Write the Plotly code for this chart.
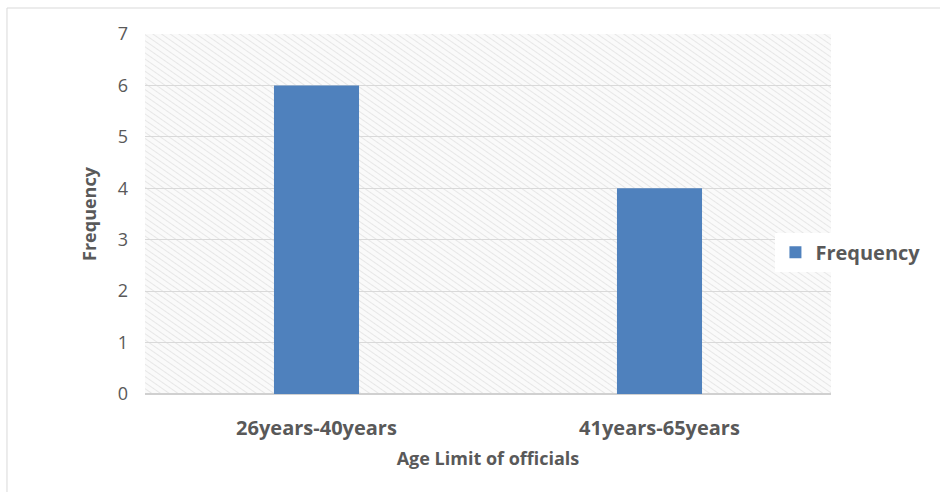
import base64
import plotly.graph_objects as go

# Frequency of officials by age band
age_groups = ["26years-40years", "41years-65years"]
frequency = [6, 4]
y_ticks = [0, 1, 2, 3, 4, 5, 6, 7]

BAR_BLUE = "#4f81bd"
TEXT_GREY = "#595959"
GRID_GREY = "#d9d9d9"
FONT = "Open Sans, Liberation Sans, sans-serif"

# Light diagonal hatch (top-left to bottom-right) used as the plot-area backdrop
hatch_svg = (
    '<svg xmlns="http://www.w3.org/2000/svg" width="686" height="360" '
    'viewBox="0 0 686 360" preserveAspectRatio="none">'
    '<defs><pattern id="h" width="5" height="5" patternUnits="userSpaceOnUse" '
    'patternTransform="rotate(35)">'
    '<rect width="5" height="5" fill="#fafafa"/>'
    '<line x1="0" y1="0" x2="5" y2="0" stroke="#e7e7e7" stroke-width="2"/>'
    '</pattern></defs>'
    '<rect width="686" height="360" fill="url(#h)"/></svg>'
)
hatch_uri = "data:image/svg+xml;base64," + base64.b64encode(hatch_svg.encode()).decode()

fig = go.Figure()
fig.add_trace(go.Bar(
    x=age_groups,
    y=frequency,
    name="Frequency",
    marker=dict(color=BAR_BLUE, line=dict(width=0)),
    width=0.248,
))

fig.update_layout(
    width=940,
    height=492,
    margin=dict(l=145, r=109, t=34, b=98, autoexpand=False),
    paper_bgcolor="white",
    plot_bgcolor="#f6f6f6",
    font=dict(family=FONT, color=TEXT_GREY),
    showlegend=True,
    legend=dict(
        x=0.919, xanchor="left", y=0.394, yanchor="middle",
        bgcolor="white",
        font=dict(size=20, color=TEXT_GREY, family=FONT, weight="bold"),
        itemwidth=30,
    ),
    xaxis=dict(
        showgrid=False,
        tickfont=dict(size=20, color=TEXT_GREY, weight="bold"),
        ticklabelstandoff=20,
        title=dict(text="Age Limit of officials",
                   font=dict(size=18, color=TEXT_GREY, weight="bold"),
                   standoff=12),
        showline=False,
        zeroline=False,
    ),
    yaxis=dict(
        range=[0, 7],
        tickvals=y_ticks,
        tickfont=dict(size=18, color=TEXT_GREY),
        showgrid=True,
        gridcolor=GRID_GREY,
        gridwidth=1,
        zeroline=True,
        zerolinecolor="#d0d0d0",
        zerolinewidth=2,
        ticklabelstandoff=16,
        title=dict(text="Frequency",
                   font=dict(size=18, color=TEXT_GREY, weight="bold"),
                   standoff=16),
    ),
    images=[dict(
        source=hatch_uri, xref="paper", yref="paper",
        x=0, y=1, sizex=1, sizey=1, sizing="stretch",
        xanchor="left", yanchor="top", layer="below",
    )],
    shapes=[dict(
        type="rect", xref="paper", yref="paper",
        x0=-0.2012, x1=1.5, y0=-0.6, y1=1.0722,
        line=dict(color="#d9d9d9", width=1),
        fillcolor="rgba(0,0,0,0)", layer="below",
    )],
)

fig.write_html("out.html")
